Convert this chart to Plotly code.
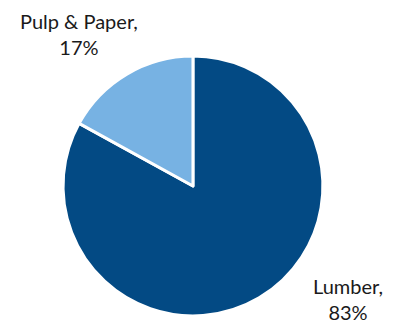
import plotly.graph_objects as go

labels = ["Lumber", "Pulp & Paper"]
values = [83, 17]
colors = ["#034a84", "#77b2e3"]

# label anchor points (paper coords) for each slice's outside label
label_x = [0.885, 0.201]
label_y = [0.078, 0.896]

fig = go.Figure(
    go.Pie(
        labels=labels,
        values=values,
        sort=False,
        direction="clockwise",
        rotation=0,
        marker=dict(colors=colors, line=dict(color="white", width=3)),
        textinfo="none",
        domain=dict(x=[0.160, 0.822], y=[0.025, 0.827]),
        showlegend=False,
        hoverinfo="label+percent",
    )
)

total = sum(values)
for lab, val, x, y in zip(labels, values, label_x, label_y):
    fig.add_annotation(
        x=x, y=y, xref="paper", yref="paper",
        text=f"{lab},<br>{round(100 * val / total)}%",
        showarrow=False,
        xanchor="center", yanchor="middle",
        font=dict(family="Lato", size=20, color="#1a1a1a"),
    )

fig.update_layout(
    width=393,
    height=324,
    margin=dict(l=0, r=0, t=0, b=0),
    paper_bgcolor="white",
    plot_bgcolor="white",
)

fig.write_html("out.html")
